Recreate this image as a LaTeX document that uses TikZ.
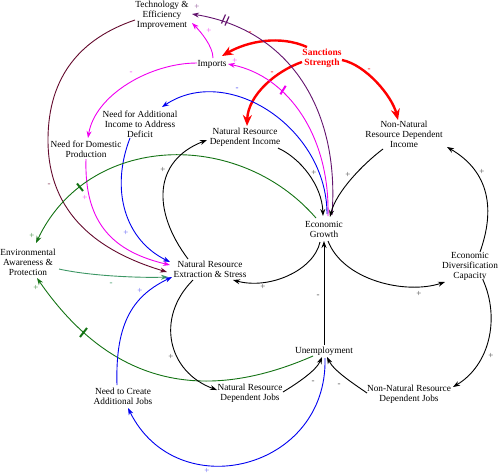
\documentclass[tikz,border=0pt]{standalone}
\usepackage{fontspec}
\setmainfont{Liberation Serif}
\usetikzlibrary{arrows.meta,calc}

\definecolor{techcol}{RGB}{100,10,45}
\definecolor{growthcol}{RGB}{100,20,110}
\definecolor{envcol}{RGB}{20,115,20}
\definecolor{awarecol}{RGB}{60,150,100}
\definecolor{impcol}{RGB}{240,0,240}
\definecolor{jobcol}{RGB}{0,0,240}

\tikzset{
  var/.style={align=center, font=\fontsize{9.3}{10}\selectfont, inner sep=1pt},
  link/.style={line width=0.9pt, -{Stealth[length=7pt,width=5pt]}},
  sanct/.style={line width=2.4pt, red, -{Stealth[length=11pt,width=9pt]}},
  pol/.style={font=\fontsize{9}{9}\selectfont, inner sep=0pt},
  delay/.style={line width=2pt}
}

\begin{document}
\begin{tikzpicture}[x=1pt,y=-1pt]
    \useasboundingbox (0,0) rectangle (500,475);
    \node[var] (tech) at (162,15) {Technology \&\\Efficiency\\Improvement};
    \node[var,text=red,font=\fontsize{9.5}{10}\selectfont\bfseries] (sanc) at (322,58) {Sanctions\\Strength};
    \node[var] (imp) at (212,64) {Imports};
    \node[var] (needinc) at (140,124) {Need for Additional\\Income to Address\\Deficit};
    \node[var] (needdom) at (86,149) {Need for Domestic\\Production};
    \node[var] (nrinc) at (245,137) {Natural Resource\\Dependent Income};
    \node[var] (nnrinc) at (404,134) {Non-Natural\\Resource Dependent\\Income};
    \node[var] (eg) at (324,229) {Economic\\Growth};
    \node[var] (env) at (28,262) {Environmental\\Awareness \&\\Protection};
    \node[var] (nrext) at (210,269) {Natural Resource\\Extraction \& Stress};
    \node[var] (div) at (470,266) {Economic\\Diversification\\Capacity};
    \node[var] (unemp) at (324,351) {Unemployment};
    \node[var] (nrjobs) at (250,393) {Natural Resource\\Dependent Jobs};
    \node[var] (nnrjobs) at (409,394) {Non-Natural Resource\\Dependent Jobs};
    \node[var] (needjobs) at (123,396) {Need to Create\\Additional Jobs};
    % sanctions
    \draw[sanct] ($(sanc)+(-15,-11)$) .. controls (280,35) and (248,41) .. ($(imp)+(10,-8)$);
    \draw[sanct] ($(sanc)+(-20,4)$) .. controls (276,71) and (248,95) .. ($(nrinc)+(2,-11)$);
    \draw[sanct] ($(sanc)+(20,2)$) .. controls (366,65) and (392,96) .. ($(nnrinc)+(-6,-14)$);
    % coloured links
    \draw[link,impcol] ($(imp)+(1,-6)$) .. controls (213,46) and (200,31) .. ($(tech)+(30,8)$);
    \draw[link,impcol] ($(eg)+(4,-13)$) .. controls (330,136) and (288,76) .. ($(imp)+(16,0)$);
    \draw[link,growthcol] ($(eg)+(8,-14)$) .. controls (340,110) and (290,30) .. ($(tech)+(30,-1)$);
    \draw[link,impcol] ($(imp)+(-15,-1)$) .. controls (150,63) and (95,95) .. ($(needdom)+(2,-11)$);
    \draw[link,jobcol] ($(eg)+(3,-15)$) .. controls (327,128) and (228,63) .. ($(needinc)+(22,-17)$);
    \draw[link,impcol] ($(needdom)+(0,10)$) .. controls (84,225) and (115,252) .. ($(nrext)+(-40,-4)$);
    \draw[link,jobcol] ($(needinc)+(-10,14)$) .. controls (110,190) and (125,240) .. ($(nrext)+(-40,-7)$);
    \draw[link,techcol] ($(tech)+(-27,5)$) .. controls (82,38) and (48,75) .. (48,140)
        .. controls (48,215) and (100,252) .. ($(nrext)+(-43,3)$);
    \draw[link,awarecol] ($(env)+(31,7)$) .. controls (90,276) and (140,278) .. ($(nrext)+(-42,8)$);
    \draw[link,envcol] ($(eg)+(-8,-11)$) .. controls (238,128) and (88,133) .. ($(env)+(8,-19)$);
    \draw[link,envcol] ($(unemp)+(-11,5)$) .. controls (203,404) and (111,385) .. ($(env)+(9,16)$);
    \draw[link,jobcol] ($(needjobs)+(-6,-11)$) .. controls (115,320) and (135,295) .. ($(nrext)+(-38,8)$);
    \draw[link,jobcol] ($(unemp)+(1,7)$) .. controls (328,470) and (177,507) .. ($(needjobs)+(5,12)$);
    % black links
    \draw[link] ($(nrext)+(-22,-10)$) .. controls (152,211) and (153,161) .. ($(nrinc)+(-38,3)$);
    \draw[link] ($(nrinc)+(33,11)$) .. controls (300,158) and (322,185) .. ($(eg)+(-1,-13)$);
    \draw[link] ($(nnrinc)+(-21,15)$) .. controls (363,164) and (336,192) .. ($(eg)+(6,-12)$);
    \draw[link] ($(eg)+(-4,13)$) .. controls (314,270) and (270,290) .. ($(nrext)+(23,11)$);
    \draw[link] ($(eg)+(4,12)$) .. controls (343,280) and (405,295) .. ($(div)+(-25,16)$);
    \draw[link] ($(div)+(10,-14)$) .. controls (495,210) and (490,172) .. ($(nnrinc)+(43,13)$);
    \draw[link] ($(div)+(13,14)$) .. controls (500,318) and (490,365) .. ($(nnrjobs)+(44,-7)$);
    \draw[link] ($(unemp)+(0,-6)$) -- ($(eg)+(0,12)$);
    \draw[link] ($(nrjobs)+(33,-1)$) .. controls (296,384) and (316,371) .. ($(unemp)+(-2,6)$);
    \draw[link] ($(nnrjobs)+(-42,-1)$) .. controls (354,384) and (334,371) .. ($(unemp)+(3,6)$);
    \draw[link] ($(nrext)+(-17,11)$) .. controls (155,318) and (168,372) .. ($(nrjobs)+(-33,-3)$);
    % delays
    \draw[delay,growthcol,line width=1.2pt] (229,16.5) -- (225,25.5);
    \draw[delay,growthcol,line width=1.2pt] (225.5,14.5) -- (221.5,23.5);
    \draw[delay,impcol] (285.7,85.8) -- (280.4,94.3);
    \draw[delay,envcol] (77,183.5) -- (83,191);
    \draw[delay,envcol] (80,337) -- (87,328);
    % polarities
    \node[pol,red] (p1) at (250,33) {-};
    \node[pol,red] (p2) at (272,73) {-};
    \node[pol,red] (p3) at (369,70) {-};
    \node[pol,impcol!70] (p4) at (209,31) {+};
    \node[pol,impcol!70] (p5) at (235,61) {+};
    \node[pol,growthcol!70] (p6) at (197,7) {+};
    \node[pol,impcol!70] (p7) at (131,73) {-};
    \node[pol,jobcol!70] (p8) at (237,89) {-};
    \node[pol,impcol!70] (p9) at (85,198) {+};
    \node[pol,jobcol!60] (p10) at (126,233) {+};
    \node[pol,techcol!80] (p11) at (49,185) {-};
    \node[pol,awarecol] (p12) at (111,284) {-};
    \node[pol,envcol!80] (p13) at (32,236) {+};
    \node[pol,envcol!80] (p14) at (36,288) {+};
    \node[pol,jobcol!60] (p15) at (140,291) {+};
    \node[pol,jobcol!60] (p16) at (207,471) {+};
    \node[pol,black!70] (p17) at (163,170) {+};
    \node[pol,black!70] (p18) at (314,173) {+};
    \node[pol,black!70] (p19) at (348,175) {+};
    \node[pol,black!70] (p20) at (263,287) {+};
    \node[pol,black!70] (p21) at (419,294) {+};
    \node[pol,black!70] (p22) at (482,172) {+};
    \node[pol,black!70] (p23) at (491,356) {+};
    \node[pol,black!70] (p24) at (318,296) {-};
    \node[pol,black!70] (p25) at (313,382) {-};
    \node[pol,black!70] (p26) at (339,385) {-};
    \node[pol,black!70] (p27) at (171,357) {+};
\end{tikzpicture}
\end{document}
